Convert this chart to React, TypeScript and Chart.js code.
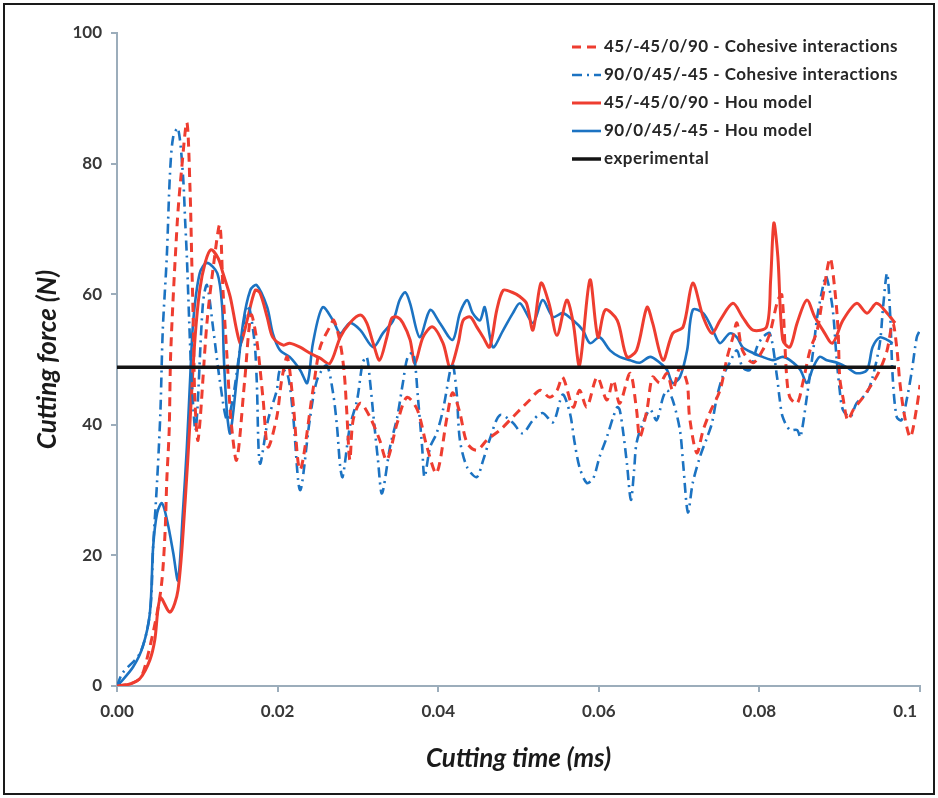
import { useEffect, useRef } from 'react';
import { Chart, registerables } from 'chart.js';

Chart.register(...registerables);

// ---- Data (time in ms, force in N) ----
const redCohT = [0,0.0016,0.0029,0.0037,0.0050,0.0056,0.0060,0.0062,0.0065,0.0067,
  0.0075,0.0080,0.0087,0.0091,0.0093,0.0095,0.0097,0.0101,0.0112,0.0121,
  0.0128,0.0132,0.0137,0.0142,0.0149,0.0159,0.0167,0.0174,0.0182,0.0188,
  0.0199,0.0205,0.0212,0.0219,0.0228,0.0244,0.0253,0.0265,0.0270,0.0278,
  0.0283,0.0286,0.0290,0.0294,0.0303,0.0315,0.0327,0.0336,0.0349,0.0361,
  0.0374,0.0386,0.0398,0.0411,0.0418,0.0427,0.0436,0.0448,0.0461,0.0477,
  0.0493,0.0505,0.0514,0.0527,0.0539,0.0548,0.0555,0.0568,0.0576,0.0585,
  0.0598,0.0610,0.0618,0.0626,0.0639,0.0647,0.0651,0.0660,0.0667,0.0676,
  0.0685,0.0692,0.0701,0.0710,0.0713,0.0722,0.0730,0.0738,0.0751,0.0760,
  0.0767,0.0772,0.0779,0.0792,0.0804,0.0813,0.0823,0.0828,0.0834,0.0838,
  0.0847,0.0854,0.0863,0.0872,0.0879,0.0888,0.0894,0.0898,0.0900,0.0904,
  0.0910,0.0917,0.0929,0.0941,0.0950,0.0959,0.0966,0.0971,0.0975,0.0981,
  0.0988,0.0996,0.1000];
const redCohV = [0,0.3,1.2,4.0,11.2,16.2,23.9,31.5,39.2,51.4,
  70.9,78.5,86.3,75.9,65.7,55.6,43.8,37.7,55.6,65.2,
  70.6,60.6,50.4,40.7,34.6,46.8,56.8,53.0,43.8,36.6,
  41.2,46.8,50.4,43.8,33.1,45.3,51.9,55.0,56.0,52.5,
  47.9,42.3,34.6,40.7,43.3,41.2,37.7,34.6,40.3,44.2,
  42.3,36.6,32.6,41.2,44.9,41.8,37.2,36.1,37.7,39.2,
  41.2,42.7,43.8,45.3,44.2,45.3,47.3,42.7,45.3,42.7,
  47.3,43.8,46.8,43.3,47.9,42.3,38.1,42.3,47.3,46.4,
  47.9,45.3,48.8,46.4,41.2,35.7,39.2,41.8,45.3,50.4,
  53.4,55.6,51.4,49.5,51.4,54.0,59.1,59.9,47.3,44.2,
  43.3,46.4,51.4,54.5,59.6,65.5,60.6,54.5,47.3,44.2,
  40.7,42.3,44.2,46.4,48.4,51.4,55.6,51.9,46.4,41.2,
  38.1,42.7,46.1];

const blueCohT = [0,0.0007,0.0029,0.0041,0.0045,0.0050,0.0054,0.0057,0.0062,0.0066,
  0.0070,0.0076,0.0082,0.0085,0.0087,0.0090,0.0093,0.0098,0.0107,0.0112,
  0.0120,0.0128,0.0137,0.0144,0.0153,0.0163,0.0171,0.0174,0.0178,0.0188,
  0.0199,0.0203,0.0212,0.0219,0.0228,0.0240,0.0249,0.0261,0.0269,0.0274,
  0.0278,0.0281,0.0290,0.0299,0.0306,0.0311,0.0315,0.0319,0.0325,0.0330,
  0.0340,0.0349,0.0356,0.0362,0.0369,0.0375,0.0380,0.0383,0.0390,0.0398,
  0.0406,0.0415,0.0418,0.0423,0.0427,0.0436,0.0448,0.0456,0.0464,0.0477,
  0.0493,0.0505,0.0518,0.0530,0.0543,0.0555,0.0564,0.0570,0.0576,0.0585,
  0.0593,0.0601,0.0610,0.0618,0.0623,0.0626,0.0630,0.0635,0.0640,0.0644,
  0.0647,0.0655,0.0664,0.0672,0.0680,0.0685,0.0692,0.0701,0.0705,0.0711,
  0.0717,0.0726,0.0735,0.0741,0.0747,0.0754,0.0763,0.0772,0.0779,0.0788,
  0.0797,0.0804,0.0813,0.0822,0.0825,0.0829,0.0838,0.0847,0.0851,0.0859,
  0.0867,0.0872,0.0879,0.0883,0.0891,0.0896,0.0900,0.0904,0.0913,0.0921,
  0.0934,0.0941,0.0950,0.0954,0.0959,0.0963,0.0966,0.0971,0.0977,0.0984,
  0.0990,0.0996,0.1000];
const blueCohV = [0,2.0,5.1,11.2,21.3,31.5,41.8,54.5,65.7,78.5,
  84.1,85.4,78.5,70.9,65.7,55.6,46.8,39.2,58.6,61.4,
  54.5,46.8,40.7,43.8,51.4,58.3,53.0,46.8,34.1,40.7,
  45.3,48.4,47.9,41.8,30.0,40.7,46.8,49.1,44.9,39.7,
  33.5,32.0,39.7,43.8,49.5,50.4,46.8,41.8,34.6,29.5,
  36.6,41.2,46.4,50.4,51.0,43.8,36.6,32.0,36.6,38.7,
  42.3,48.4,49.5,44.9,37.7,33.5,32.0,34.6,37.7,41.5,
  40.3,38.7,40.7,41.8,40.4,44.6,41.8,37.2,33.5,31.1,
  31.8,35.1,38.1,41.2,42.7,42.3,39.2,34.1,28.5,33.1,
  37.2,40.3,42.3,40.7,44.2,45.3,43.8,39.2,34.1,26.6,
  31.1,35.1,38.1,40.3,44.2,47.3,49.5,51.4,48.8,48.4,
  51.9,53.4,54.0,47.3,44.2,41.2,39.2,39.2,38.1,44.2,
  51.4,56.5,61.1,62.8,58.0,50.4,45.3,42.3,41.2,43.3,
  44.9,47.3,52.5,58.0,63.2,56.5,47.3,41.2,40.7,44.2,
  48.4,53.4,54.5];

const redHouT = [0,0.0016,0.0029,0.0041,0.0047,0.0054,0.0066,0.0076,0.0085,0.0091,
  0.0097,0.0103,0.0110,0.0117,0.0126,0.0132,0.0141,0.0149,0.0154,0.0162,
  0.0172,0.0178,0.0187,0.0194,0.0207,0.0215,0.0228,0.0240,0.0253,0.0265,
  0.0278,0.0290,0.0303,0.0311,0.0319,0.0327,0.0336,0.0342,0.0349,0.0356,
  0.0365,0.0371,0.0381,0.0393,0.0406,0.0415,0.0425,0.0431,0.0440,0.0448,
  0.0456,0.0464,0.0473,0.0481,0.0492,0.0502,0.0510,0.0518,0.0528,0.0538,
  0.0548,0.0560,0.0568,0.0576,0.0589,0.0599,0.0608,0.0623,0.0635,0.0647,
  0.0660,0.0667,0.0680,0.0692,0.0705,0.0717,0.0730,0.0741,0.0751,0.0767,
  0.0779,0.0792,0.0809,0.0814,0.0818,0.0823,0.0829,0.0838,0.0847,0.0859,
  0.0869,0.0879,0.0891,0.0904,0.0921,0.0934,0.0946,0.0959,0.0969];
const redHouV = [0,0.3,1.2,4.0,7.0,13.5,11.3,14.7,28.5,40.7,
  53.0,60.6,64.9,66.8,65.5,63.2,59.6,54.5,52.5,56.0,
  60.6,60.2,56.5,53.4,52.2,52.5,51.9,51.0,50.2,49.4,
  53.4,55.6,56.8,55.6,52.5,49.9,53.4,56.3,56.5,55.6,
  53.0,49.4,53.4,55.0,52.5,48.8,52.5,56.0,56.5,55.0,
  53.4,51.9,57.6,60.6,60.3,59.6,58.6,54.5,61.7,58.6,
  53.7,59.1,55.7,49.1,62.2,53.4,57.6,56.0,50.4,51.4,
  58.0,55.6,49.9,54.0,55.0,61.7,56.5,54.0,56.0,58.6,
  56.5,54.5,55.0,62.2,70.9,65.7,53.0,51.9,55.6,59.1,
  56.5,54.5,52.5,56.0,58.6,57.1,58.6,57.1,55.6];

const blueHouT = [0,0.0004,0.0020,0.0032,0.0041,0.0045,0.0050,0.0056,0.0063,0.0070,
  0.0076,0.0082,0.0087,0.0091,0.0095,0.0103,0.0112,0.0125,0.0131,0.0133,
  0.0137,0.0141,0.0149,0.0157,0.0166,0.0174,0.0187,0.0194,0.0203,0.0215,
  0.0228,0.0237,0.0244,0.0256,0.0269,0.0278,0.0290,0.0303,0.0319,0.0331,
  0.0344,0.0352,0.0359,0.0365,0.0377,0.0390,0.0402,0.0418,0.0427,0.0436,
  0.0443,0.0452,0.0458,0.0468,0.0481,0.0493,0.0502,0.0518,0.0530,0.0543,
  0.0555,0.0568,0.0580,0.0589,0.0601,0.0614,0.0626,0.0639,0.0651,0.0664,
  0.0676,0.0685,0.0692,0.0701,0.0710,0.0717,0.0730,0.0742,0.0751,0.0763,
  0.0772,0.0779,0.0792,0.0804,0.0817,0.0829,0.0838,0.0851,0.0859,0.0867,
  0.0875,0.0884,0.0897,0.0909,0.0921,0.0934,0.0941,0.0950,0.0959,0.0966];
const blueHouV = [0,0.5,2.9,6.0,11.2,21.3,26.5,28.0,25.0,20.4,
  16.2,26.5,36.6,46.8,56.0,63.2,64.8,63.2,58.0,50.4,
  41.8,38.7,46.8,55.6,60.6,61.4,58.0,54.0,51.4,50.4,
  48.4,46.4,52.5,58.0,56.0,54.0,55.6,54.5,51.9,54.0,
  56.0,59.1,60.3,58.6,53.4,57.6,55.6,53.0,57.1,59.1,
  57.1,56.0,58.0,51.9,54.5,57.1,58.6,55.6,59.1,56.5,
  57.1,56.0,54.5,52.5,53.4,51.4,50.4,49.9,49.5,50.4,
  49.5,48.4,46.4,47.3,51.4,57.6,57.1,54.5,52.5,54.0,
  53.4,51.9,51.0,50.4,49.9,50.4,49.9,48.4,46.4,48.8,
  50.4,49.9,49.5,48.8,47.9,48.4,51.9,53.4,53.0,52.5];

const expT = [0, 0.097];
const expV = [48.8, 48.8];

const seriesLabels = [
  '45/-45/0/90 - Cohesive interactions',
  '90/0/45/-45 - Cohesive interactions',
  '45/-45/0/90 - Hou model',
  '90/0/45/-45 - Hou model',
  'experimental',
];

const xTicks = [0, 0.02, 0.04, 0.06, 0.08, 0.1];
const xTickLabels = ['0.00', '0.02', '0.04', '0.06', '0.08', '0.1\u2007\u2007\u2007'];

const RED = '#ee3d30';
const BLUE = '#1c73c2';
const BLACK = '#141414';
const AXIS = '#9cadbb';
const TEXT = '#383838';

const pts = (T: number[], V: number[]) => {
  const n = Math.min(T.length, V.length);
  const out: { x: number; y: number }[] = [];
  for (let i = 0; i < n; i++) out.push({ x: T[i], y: V[i] });
  return out;
};

const insideLegend = {
  id: 'insideLegend',
  afterDraw(chart: any) {
    const { ctx, chartArea } = chart;
    const x0 = chartArea.right - 348;
    const y0 = chartArea.top + 14;
    ctx.save();
    ctx.font = 'bold 17px Lato';
    try { (ctx as any).letterSpacing = '0.5px'; } catch (e) { /* ignore */ }
    ctx.textBaseline = 'middle';
    ctx.textAlign = 'left';
    chart.data.datasets.forEach((ds: any, i: number) => {
      const y = y0 + i * 28;
      ctx.strokeStyle = ds.borderColor;
      ctx.lineWidth = ds.borderWidth;
      ctx.setLineDash(ds.borderDash || []);
      ctx.beginPath();
      ctx.moveTo(x0, y);
      ctx.lineTo(x0 + 29, y);
      ctx.stroke();
      ctx.setLineDash([]);
      ctx.fillStyle = '#262626';
      ctx.fillText(ds.label, x0 + 32, y);
    });
    ctx.restore();
  },
};

export default function App() {
  const ref = useRef<HTMLCanvasElement>(null);

  useEffect(() => {
    document.body.style.margin = '0';
    const tickFont = { family: 'Lato', size: 17, weight: 'bold' as const };
    const titleFont = { family: 'Lato', size: 26, weight: 'bold' as const, style: 'italic' as const };
    const chart = new Chart(ref.current!, {
      type: 'line',
      data: {
        datasets: [
          { label: seriesLabels[0], data: pts(redCohT, redCohV), borderColor: RED, borderWidth: 3, borderDash: [9, 6] },
          { label: seriesLabels[1], data: pts(blueCohT, blueCohV), borderColor: BLUE, borderWidth: 2.6, borderDash: [10, 5, 2, 5] },
          { label: seriesLabels[2], data: pts(redHouT, redHouV), borderColor: RED, borderWidth: 3 },
          { label: seriesLabels[3], data: pts(blueHouT, blueHouV), borderColor: BLUE, borderWidth: 2.6 },
          { label: seriesLabels[4], data: pts(expT, expV), borderColor: BLACK, borderWidth: 3.5, order: -1 },
        ] as any,
      },
      options: {
        responsive: false,
        animation: false,
        devicePixelRatio: 1,
        layout: { padding: { left: 30, top: 33, right: 18, bottom: 20 } },
        elements: { point: { radius: 0 }, line: { tension: 0.3, fill: false } },
        plugins: { legend: { display: false }, tooltip: { enabled: false } },
        scales: {
          x: {
            type: 'linear',
            min: 0,
            max: 0.1,
            afterBuildTicks: (s: any) => { s.ticks = xTicks.map((v) => ({ value: v })); },
            afterFit: (s: any) => { s.height = 92; s.paddingLeft = 0; s.paddingRight = 0; },
            ticks: {
              autoSkip: false,
              maxRotation: 0,
              padding: 9,
              color: TEXT,
              font: tickFont,
              callback: (_v: any, i: number) => xTickLabels[i],
            },
            grid: { display: true, drawOnChartArea: false, drawTicks: true, tickLength: 6, color: AXIS, lineWidth: 2 },
            border: { display: true, color: AXIS, width: 2 },
            title: { display: true, text: 'Cutting time (ms)', color: '#1a1a1a', font: titleFont, padding: { top: 0, bottom: 4 } },
          },
          y: {
            min: 0,
            max: 100,
            afterFit: (s: any) => { s.width = 87; s.paddingTop = 0; s.paddingBottom = 0; },
            ticks: { stepSize: 20, padding: 9, color: TEXT, font: tickFont },
            grid: { display: true, drawOnChartArea: false, drawTicks: true, tickLength: 6, color: AXIS, lineWidth: 2 },
            border: { display: true, color: AXIS, width: 2 },
            title: { display: true, text: 'Cutting force (N)', color: '#1a1a1a', font: titleFont, padding: { top: 2, bottom: 0 } },
          },
        },
      } as any,
      plugins: [insideLegend],
    });
    return () => chart.destroy();
  }, []);

  return (
    <div style={{ position: 'relative', width: 938, height: 798, background: '#fff' }}>
      <canvas ref={ref} width={938} height={798} style={{ position: 'absolute', left: 0, top: 0, width: 938, height: 798 }} />
      <div
        style={{
          position: 'absolute',
          left: 3,
          top: 3,
          width: 932,
          height: 792,
          border: '2px solid #1a1a1a',
          boxSizing: 'border-box',
          pointerEvents: 'none',
        }}
      />
    </div>
  );
}
